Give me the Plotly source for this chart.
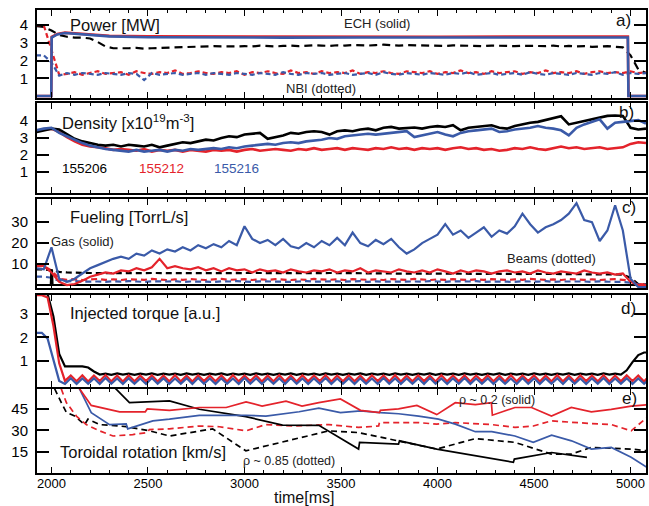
import plotly.graph_objects as go

RED = "#e4232b"
BLUE = "#3a5aa8"
BLACK = "#000000"
FONT = "Liberation Sans, Arial, sans-serif"

# ---------------- time bases ----------------
t40 = list(range(1920, 5081, 40))   # 80 samples
t30 = list(range(1920, 5101, 30))   # 107 samples

# ---------------- a) Power [MW] ----------------
ech_t = [1920, 1999, 2001, 2030, 2070, 2110, 2200, 2300, 2500, 2800, 3200, 3600, 4000, 4400, 4800, 4986, 4989, 5090]
ech_red = [0, 0, 3.35, 3.5, 3.58, 3.55, 3.45, 3.4, 3.37, 3.36, 3.35, 3.36, 3.35, 3.36, 3.35, 3.36, 0, 0]
ech_blue = [0, 0, 3.3, 3.48, 3.56, 3.52, 3.43, 3.37, 3.32, 3.3, 3.3, 3.31, 3.3, 3.3, 3.3, 3.31, 0, 0]

nbi_red = [4.0, 4.0, 2.6, 1.2, 1.25, 1.35, 1.2, 1.3, 1.4, 1.25,
           1.3, 1.35, 1.2, 1.4, 1.3, 1.25, 1.35, 1.3, 1.45, 1.25,
           1.3, 1.4, 1.3, 1.25, 1.35, 1.3, 1.4, 1.2, 1.35, 1.3,
           1.4, 1.3, 1.25, 1.45, 1.3, 1.35, 1.25, 1.4, 1.3, 1.35,
           1.3, 1.45, 1.25, 1.35, 1.3, 1.4, 1.3, 1.25, 1.4, 1.35,
           1.3, 1.4, 1.25, 1.35, 1.3, 1.45, 1.3, 1.35, 1.25, 1.4,
           1.3, 1.35, 1.4, 1.25, 1.35, 1.3, 1.45, 1.3, 1.35, 1.3,
           1.4, 1.25, 1.35, 1.4, 1.3, 1.35, 1.3, 1.4, 1.3, 1.35]
nbi_blue = [2.3, 2.3, 1.9, 1.15, 1.3, 1.2, 1.3, 1.25, 1.2, 1.3,
            1.25, 1.2, 1.3, 1.25, 0.9, 1.3, 1.2, 1.25, 1.3, 1.2,
            1.25, 1.3, 1.2, 1.3, 1.25, 1.2, 1.3, 1.25, 1.2, 1.3,
            1.25, 1.2, 1.35, 1.25, 1.2, 1.3, 1.25, 1.3, 1.2, 1.25,
            1.3, 1.2, 1.25, 1.3, 1.2, 1.35, 1.25, 1.2, 1.3, 1.25,
            1.2, 1.3, 1.25, 1.2, 1.3, 1.25, 1.35, 1.2, 1.25, 1.3,
            1.2, 1.25, 1.3, 1.2, 1.35, 1.25, 1.2, 1.3, 1.25, 1.2,
            1.3, 1.25, 1.2, 1.3, 1.25, 1.35, 1.2, 1.3, 1.25, 1.3]
nbi_black = [3.95, 3.9, 3.7, 3.45, 3.35, 3.3, 3.3, 3.25, 3.05, 2.8,
             2.7, 2.68, 2.7, 2.72, 2.68, 2.7, 2.72, 2.7, 2.75, 2.78,
             2.8, 2.78, 2.8, 2.82, 2.8, 2.78, 2.8, 2.82, 2.8, 2.85,
             2.82, 2.8, 2.83, 2.85, 2.82, 2.85, 2.87, 2.85, 2.83, 2.87,
             2.85, 2.88, 2.86, 2.85, 2.88, 2.9, 2.87, 2.85, 2.88, 2.87,
             2.85, 2.87, 2.85, 2.83, 2.86, 2.85, 2.83, 2.85, 2.82, 2.85,
             2.83, 2.85, 2.82, 2.84, 2.83, 2.8, 2.82, 2.85, 2.8, 2.83,
             2.8, 2.82, 2.78, 2.8, 2.82, 2.78, 2.75, 2.3, 1.5, 1.3]

# ---------------- b) Density ----------------
dens_black = [3.35, 3.45, 3.55, 3.5, 3.25, 2.95, 2.8, 2.7, 2.6, 2.55,
              2.6, 2.5, 2.6, 2.55, 2.5, 2.6, 2.45, 2.55, 2.65, 2.75,
              2.7, 2.8, 2.9, 2.85, 3.0, 3.1, 3.05, 3.2, 3.25, 3.3,
              2.95, 3.05, 3.15, 3.3, 3.25, 3.35, 3.4, 3.35, 3.2, 3.4,
              3.45, 3.4, 3.5, 3.55, 3.45, 3.6, 3.65, 3.55, 3.6, 3.62,
              3.55, 3.65, 3.7, 3.65, 3.75, 3.45, 3.6, 3.65, 3.7, 3.75,
              3.6, 3.55, 3.7, 3.8, 3.9, 3.95, 4.05, 4.15, 4.28, 3.8,
              3.9, 4.0, 4.1, 4.2, 4.3, 4.32, 4.3, 3.6, 3.5, 3.55]
dens_blue = [3.45, 3.55, 3.6, 3.3, 3.1, 2.9, 2.7, 2.55, 2.45, 2.35,
             2.3, 2.25, 2.2, 2.3, 2.2, 2.25, 2.3, 2.2, 2.3, 2.25,
             2.35, 2.3, 2.35, 2.4, 2.35, 2.45, 2.4, 2.5, 2.55, 2.6,
             2.65, 2.6, 2.7, 2.75, 2.7, 2.8, 2.85, 2.9, 3.0, 2.95,
             3.1, 3.15, 3.2, 3.25, 3.2, 3.25, 3.3, 3.35, 3.4, 3.05,
             3.15, 3.25, 3.35, 3.2, 3.1, 3.3, 3.4, 3.45, 3.5, 3.55,
             3.35, 3.4, 3.5, 3.55, 3.6, 3.7, 3.6, 3.55, 3.45, 3.15,
             3.6, 3.8, 3.95, 4.1, 3.55, 3.9, 3.95, 4.0, 4.05, 3.85]
dens_red = [3.4, 3.5, 3.55, 3.35, 3.05, 2.8, 2.6, 2.5, 2.45, 2.4,
            2.3, 2.35, 2.3, 2.25, 2.35, 2.2, 2.3, 2.25, 2.3, 2.2,
            2.3, 2.25, 2.2, 2.3, 2.25, 2.3, 2.2, 2.3, 2.35, 2.25,
            2.3, 2.35, 2.3, 2.25, 2.35, 2.3, 2.4, 2.3, 2.35, 2.4,
            2.3, 2.4, 2.35, 2.3, 2.4, 2.35, 2.45, 2.35, 2.4, 2.3,
            2.4, 2.35, 2.4, 2.3, 2.4, 2.45, 2.35, 2.4, 2.3, 2.35,
            2.25, 2.3, 2.4, 2.35, 2.45, 2.35, 2.3, 2.4, 2.5, 2.4,
            2.45, 2.35, 2.4, 2.45, 2.35, 2.4, 2.45, 2.65, 2.75, 2.7]

# ---------------- c) Fueling [TorrL/s] ----------------
gas_blue = [8, 7.5, 18, 3, 1.5, 3, 5.5, 8, 9.5, 11,
            12.5, 13.5, 12.5, 15, 14, 16.5, 15, 17, 16, 18,
            16.5, 19, 17.5, 19.5, 18, 21, 19, 28, 22, 20,
            21.5, 19, 22, 18.5, 17.5, 20, 18, 21, 19, 22.5,
            19, 25, 20, 18.5, 21.5, 19.5, 22, 18, 15, 17,
            20, 22, 24, 29, 24, 26, 22.5, 25, 27.5, 23,
            26, 24.5, 28, 34, 29, 25, 27.5, 29, 31, 34,
            39, 31, 30, 21, 26, 38, 26, 3, -1, -1]
gas_red = [9.5, 9, 6, 1.5, 0, 0.5, 2, 4, 5, 6,
           5.5, 7, 6.5, 8, 7, 8.5, 12.5, 8, 9, 8,
           7.5, 8.5, 7, 8, 6.5, 8, 7, 7.5, 6, 7.5,
           6.5, 7, 6, 7.5, 6.5, 6, 7, 6.5, 7.5, 6,
           7, 6.5, 8, 6, 7, 6.5, 6, 7.5, 6.5, 6,
           7, 6, 7.5, 6.5, 5.5, 7, 6, 7, 6.5, 5.5,
           6.5, 7, 6, 6.5, 5.5, 7, 6, 5.5, 6.5, 6,
           5.5, 7, 6, 5.5, 6, 5, 5.5, 1.5, 0, 0]
gas_black_t = [1920, 1996, 1999, 2003, 2006, 5090]
gas_black = [0, 0, 7, 7, 0, 0]
beam_black = [7.5, 7.5, 7, 6.3, 6, 5.8, 5.7, 5.75, 5.7, 5.65,
              5.7, 5.75, 5.7, 5.65, 5.7, 5.75, 5.7, 5.7, 5.65, 5.7,
              5.75, 5.7, 5.65, 5.7, 5.75, 5.7, 5.7, 5.65, 5.7, 5.75,
              5.7, 5.65, 5.7, 5.75, 5.7, 5.65, 5.7, 5.7, 5.75, 5.7,
              5.6, 5.65, 5.6, 5.55, 5.6, 5.5, 5.55, 5.5, 5.45, 5.5,
              5.45, 5.5, 5.4, 5.45, 5.4, 5.45, 5.35, 5.4, 5.35, 5.4,
              5.3, 5.35, 5.3, 5.25, 5.3, 5.2, 5.25, 5.2, 5.25, 5.2,
              5.15, 5.2, 5.15, 5.1, 5.15, 5.1, 5.0, 3.5, 0.5, 0.3]
beam_red = [9, 9, 7, 3, 2.5, 2.8, 2.4, 2.6, 2.9, 2.5,
            2.7, 2.4, 2.8, 2.6, 2.5, 2.9, 2.6, 2.4, 2.7, 2.5,
            2.8, 2.6, 2.4, 2.7, 2.9, 2.5, 2.6, 2.8, 2.4, 2.7,
            2.5, 2.8, 2.6, 2.4, 2.7, 2.5, 2.9, 2.6, 2.5, 2.7,
            2.4, 2.8, 2.6, 2.5, 2.7, 2.4, 2.8, 2.6, 2.5, 2.9,
            2.6, 2.4, 2.7, 2.5, 2.8, 2.6, 2.4, 2.7, 2.5, 2.8,
            2.6, 2.4, 2.7, 2.5, 2.9, 2.6, 2.5, 2.7, 2.4, 2.8,
            2.6, 2.5, 2.7, 2.4, 2.6, 2.8, 2.5, 2.0, 0.5, 0.3]
beam_blue = [4, 4, 3.5, 2, 1.7, 1.9, 1.6, 1.8, 1.7, 1.5,
             1.8, 1.6, 1.9, 1.7, 1.5, 1.8, 1.6, 1.7, 1.9, 1.5,
             1.7, 1.8, 1.6, 1.5, 1.8, 1.7, 1.9, 1.6, 1.5, 1.8,
             1.7, 1.6, 1.8, 1.5, 1.7, 1.9, 1.6, 1.7, 1.5, 1.8,
             1.6, 1.7, 1.9, 1.5, 1.8, 1.6, 1.7, 1.5, 1.8, 1.7,
             1.6, 1.9, 1.7, 1.5, 1.8, 1.6, 1.7, 1.9, 1.5, 1.7,
             1.8, 1.6, 1.5, 1.8, 1.7, 1.6, 1.9, 1.5, 1.7, 1.8,
             1.6, 1.7, 1.5, 1.8, 1.6, 1.7, 1.5, 1.2, 0.3, 0.2]

# ---------------- d) Injected torque [a.u.] ----------------
torque_black = [3.85, 3.85, 3.85, 2.9, 1.3, 0.77, 0.77, 0.77, 0.77, 0.72, 0.55, 0.42,
                0.46, 0.41, 0.47, 0.42, 0.46, 0.41, 0.46, 0.42, 0.47, 0.41,
                0.46, 0.42, 0.46, 0.41, 0.47, 0.42, 0.46, 0.41, 0.46, 0.42,
                0.47, 0.41, 0.46, 0.42, 0.46, 0.41, 0.47, 0.42, 0.46, 0.41,
                0.46, 0.42, 0.47, 0.41, 0.46, 0.42, 0.46, 0.41, 0.47, 0.42,
                0.46, 0.41, 0.46, 0.42, 0.47, 0.41, 0.46, 0.42, 0.46, 0.41,
                0.47, 0.42, 0.46, 0.41, 0.46, 0.42, 0.47, 0.41, 0.46, 0.42,
                0.46, 0.41, 0.47, 0.42, 0.46, 0.41, 0.46, 0.42, 0.47, 0.41,
                0.46, 0.42, 0.46, 0.41, 0.47, 0.42, 0.46, 0.41, 0.46, 0.42,
                0.47, 0.41, 0.46, 0.42, 0.46, 0.41, 0.47, 0.42, 0.46, 0.42,
                0.6, 0.95, 1.25, 1.36, 1.36]
torque_red = [3.8, 3.8, 3.7, 2.5, 0.9, 0.15,
              0.38, 0.13, 0.39, 0.12, 0.38, 0.14, 0.4, 0.13, 0.38, 0.12,
              0.39, 0.13, 0.38, 0.14, 0.39, 0.12, 0.38, 0.13, 0.4, 0.13,
              0.38, 0.12, 0.39, 0.14, 0.38, 0.13, 0.39, 0.12, 0.4, 0.13,
              0.38, 0.14, 0.39, 0.12, 0.38, 0.13, 0.4, 0.13, 0.38, 0.12,
              0.39, 0.13, 0.38, 0.14, 0.4, 0.12, 0.38, 0.13, 0.39, 0.13,
              0.38, 0.12, 0.39, 0.14, 0.38, 0.13, 0.4, 0.12, 0.38, 0.13,
              0.39, 0.14, 0.38, 0.12, 0.4, 0.13, 0.38, 0.13, 0.39, 0.12,
              0.38, 0.14, 0.39, 0.13, 0.38, 0.12, 0.4, 0.13, 0.38, 0.14,
              0.39, 0.12, 0.38, 0.13, 0.4, 0.13, 0.38, 0.12, 0.39, 0.14,
              0.38, 0.13, 0.4, 0.12, 0.38, 0.13, 0.39, 0.14, 0.38, 0.12,
              0.39]
torque_blue = [2.2, 2.2, 1.95, 1.1, 0.15, 0.02,
               0.26, 0.02, 0.25, 0.03, 0.26, 0.02, 0.27, 0.03, 0.25, 0.02,
               0.26, 0.03, 0.25, 0.02, 0.27, 0.03, 0.26, 0.02, 0.25, 0.03,
               0.26, 0.02, 0.27, 0.03, 0.25, 0.02, 0.26, 0.03, 0.25, 0.02,
               0.27, 0.03, 0.26, 0.02, 0.25, 0.03, 0.26, 0.02, 0.27, 0.03,
               0.25, 0.02, 0.26, 0.03, 0.27, 0.02, 0.25, 0.03, 0.26, 0.02,
               0.26, 0.03, 0.25, 0.02, 0.27, 0.03, 0.26, 0.02, 0.25, 0.03,
               0.26, 0.02, 0.27, 0.03, 0.25, 0.02, 0.26, 0.03, 0.27, 0.02,
               0.25, 0.03, 0.26, 0.02, 0.26, 0.03, 0.25, 0.02, 0.27, 0.03,
               0.26, 0.02, 0.25, 0.03, 0.26, 0.02, 0.27, 0.03, 0.25, 0.02,
               0.26, 0.03, 0.27, 0.02, 0.25, 0.03, 0.26, 0.02, 0.25, 0.03,
               0.26]

# ---------------- e) Toroidal rotation [km/s] ----------------
rot_red_t = [2110, 2206, 2353, 2486, 2496, 2611, 2766, 2905, 3008, 3091, 3215, 3298, 3385, 3497, 3601,
             3699, 3704, 3798, 3893, 3996, 4092, 4196, 4279, 4284, 4401, 4487, 4590, 4693, 4797, 4900, 5003, 5090]
rot_red = [66, 47.5, 43, 43, 45, 44, 46, 46, 50, 47, 50.5, 47, 49.4, 52, 44,
           42.5, 44, 45, 47.5, 41, 49.4, 48, 49.4, 40.6, 46, 46, 40, 46, 43, 44.7, 47, 48]
rot_blue_t = [2120, 2206, 2301, 2387, 2395, 2525, 2611, 2766, 3008, 3111, 3283, 3385, 3497, 3601, 3704,
              3798, 3902, 4005, 4092, 4196, 4281, 4401, 4496, 4591, 4694, 4797, 4900, 5003, 5085]
rot_blue = [66, 42.4, 34, 34.5, 31, 36.6, 37.8, 40.5, 40.5, 40, 43, 45.5, 42.4, 43.6, 42.4,
            41.6, 40, 37.8, 34.3, 29, 29, 26, 21.5, 26.6, 22.6, 16.8, 18, 11, 4]
rot_black_t = [2298, 2404, 2611, 2766, 3007, 3197, 3385, 3591, 3596, 3798, 3803, 3996, 4393, 4398, 4591, 4774]
rot_black = [64, 49.4, 50.6, 44.8, 39.6, 33.6, 33.5, 16.8, 21.5, 20.3, 22.6, 16.8, 7.5, 9.8, 14.4, 11]
rot_black_d_t = [2001, 2017, 2051, 2077, 2120, 2172, 2189, 2250, 2387, 2508, 2611, 2766, 2835, 3007, 3110,
                 3437, 3591, 3798, 3996, 4196, 4401, 4590, 4693, 4797, 5003, 5085]
rot_black_d = [66, 59, 49.5, 42.6, 40, 34, 37.8, 34, 32.6, 29.6, 26, 29.6, 31, 15.6, 19,
               29.6, 28.4, 22.6, 16.8, 24.2, 21.5, 13.3, 13.3, 18, 16.8, 15.6]
rot_red_d_t = [2040, 2051, 2077, 2129, 2180, 2249, 2319, 2421, 2496, 2507, 2611, 2766, 2870, 3007, 3110,
               3247, 3437, 3591, 3695, 3699, 3902, 3996, 4092, 4281, 4401, 4496, 4590, 4693, 4797, 4900,
               5003, 5085]
rot_red_d = [66, 59, 49.5, 40, 34, 29.6, 26, 27, 28.4, 30.5, 31, 33, 32.5, 29.6, 34,
             33, 34, 32, 33, 35.4, 35.4, 34.3, 35.4, 34, 32, 33, 36.6, 35.4, 34.7, 34,
             29.6, 39]

# ---------------- tick labels ----------------
yticks_a = [1, 2, 3, 4]
yticks_b = [1, 2, 3, 4]
yticks_c = [10, 20, 30]
yticks_d = [1, 2, 3]
yticks_e = [15, 30, 45]
xtick_vals = [2000, 2500, 3000, 3500, 4000, 4500, 5000]

for name, arr, ref in [("nbi_red", nbi_red, t40), ("nbi_blue", nbi_blue, t40), ("nbi_black", nbi_black, t40),
                       ("dens_black", dens_black, t40), ("dens_blue", dens_blue, t40), ("dens_red", dens_red, t40),
                       ("gas_blue", gas_blue, t40), ("gas_red", gas_red, t40), ("beam_black", beam_black, t40),
                       ("beam_red", beam_red, t40), ("beam_blue", beam_blue, t40),
                       ("torque_black", torque_black, t30), ("torque_red", torque_red, t30),
                       ("torque_blue", torque_blue, t30)]:
    if len(arr) != len(ref):
        raise ValueError(f"{name}: {len(arr)} vs {len(ref)}")

fig = go.Figure()


def add(x, y, color, width, dash, k):
    fig.add_trace(go.Scatter(
        x=x, y=y, mode="lines",
        line=dict(color=color, width=width, dash=dash),
        xaxis="x" if k == 1 else f"x{k}", yaxis="y" if k == 1 else f"y{k}",
        showlegend=False, hoverinfo="skip"))


# a
add(t40, nbi_black, BLACK, 2.2, "8px,5px", 1)
add(t40, nbi_red, RED, 2.2, "5px,3px", 1)
add(t40, nbi_blue, BLUE, 2.2, "5px,3px", 1)
add(ech_t, ech_red, RED, 2.6, "solid", 1)
add(ech_t, ech_blue, BLUE, 2.6, "solid", 1)
# b
add(t40, dens_red, RED, 2.6, "solid", 2)
add(t40, dens_black, BLACK, 2.6, "solid", 2)
add(t40, dens_blue, BLUE, 2.6, "solid", 2)
# c
add(t40, beam_black, BLACK, 2.2, "6px,4px", 3)
add(t40, beam_red, RED, 2.2, "6px,4px", 3)
add(t40, beam_blue, BLUE, 2.2, "6px,4px", 3)
add(gas_black_t, gas_black, BLACK, 2.0, "solid", 3)
add(t40, gas_red, RED, 2.2, "solid", 3)
add(t40, gas_blue, BLUE, 2.2, "solid", 3)
# d
add(t30, torque_black, BLACK, 2.2, "solid", 4)
add(t30, torque_red, RED, 2.2, "solid", 4)
add(t30, torque_blue, BLUE, 2.2, "solid", 4)
# e
add(rot_black_d_t, rot_black_d, BLACK, 1.7, "6px,4px", 5)
add(rot_red_d_t, rot_red_d, RED, 1.7, "6px,4px", 5)
add(rot_black_t, rot_black, BLACK, 1.7, "solid", 5)
add(rot_blue_t, rot_blue, BLUE, 1.7, "solid", 5)
add(rot_red_t, rot_red, RED, 1.7, "solid", 5)

# ---------------- layout ----------------
H_TOP, H_BOT = 10, 473
PH = H_BOT - H_TOP
L, R = 37, 648
PW = R - L


def yp(px):
    return (H_BOT - px) / PH


def xp(px):
    return (px - L) / PW


panels = [  # (top px, bottom px, range, ticks)
    (10, 98, [-0.11, 4.86], yticks_a),
    (103, 193, [-0.24, 5.06], yticks_b),
    (199, 288, [-1.4, 41], yticks_c),
    (295, 387, [-0.11, 3.81], yticks_d),
    (389, 473, [0, 59], yticks_e),
]

layout = dict(
    width=649, height=506,
    margin=dict(l=L, r=649 - R, t=H_TOP, b=506 - H_BOT),
    paper_bgcolor="white", plot_bgcolor="white",
    font=dict(family=FONT, color="black"),
)

for k, (top, bot, rng, tv) in enumerate(panels, start=1):
    sx = "" if k == 1 else str(k)
    layout["xaxis" + sx] = dict(
        domain=[0, 1], anchor="y" + sx, range=[1925, 5080],
        matches=None if k == 1 else "x",
        showgrid=False, zeroline=False, showline=True, linecolor="black", linewidth=2,
        mirror="ticks", ticks="inside", ticklen=6, tickwidth=1.2, tickcolor="black",
        tickvals=xtick_vals, ticktext=[str(v) for v in xtick_vals],
        minor=dict(ticks="inside", ticklen=3, dtick=100, tick0=2000, tickcolor="black", tickwidth=1),
        showticklabels=(k == 5), tickfont=dict(size=13, family=FONT, color="black"),
        ticklabelstandoff=-3, ticklabeloverflow="allow",
    )
    layout["yaxis" + sx] = dict(
        domain=[yp(bot), yp(top)], anchor="x" + sx, range=rng,
        showgrid=False, zeroline=False, showline=True, linecolor="black", linewidth=2,
        mirror="ticks", ticks="inside", ticklen=12, tickwidth=1.5, tickcolor="black",
        tickvals=tv, ticktext=[str(v) for v in tv],
        tickfont=dict(size=15, family=FONT, color="black"),
        ticklabelstandoff=4,
    )

fig.update_layout(**layout)

ann = [
    # text, x px, y px, size, color, xanchor
    ("Power [MW]", 68, 25, 16.5, "#111", "left"),
    ("ECH (solid)", 343, 24, 13, "#222", "left"),
    ("a)", 635, 20, 17, "#111", "right"),
    ("NBI (dotted)", 285, 88, 13, "#222", "left"),
    ("Density [x10<sup>19</sup>m<sup>-3</sup>]", 60, 122, 16.5, "#111", "left"),
    ("155206", 60, 168, 13.5, BLACK, "left"),
    ("155212", 137, 168, 13.5, RED, "left"),
    ("155216", 213, 168, 13.5, BLUE, "left"),
    ("b)", 638, 113, 17, "#111", "right"),
    ("Fueling [TorrL/s]", 68, 217, 16.5, "#111", "left"),
    ("Gas (solid)", 49, 241, 13, "#222", "left"),
    ("Beams (dotted)", 507, 258, 13, "#222", "left"),
    ("c)", 640, 208, 17, "#111", "right"),
    ("Injected torque [a.u.]", 68, 313, 16.5, "#111", "left"),
    ("d)", 640, 308, 17, "#111", "right"),
    ("Toroidal rotation [km/s]", 58, 452, 16.5, "#111", "left"),
    ("ρ ~ 0.85 (dotted)", 242, 461, 12.5, "#222", "left"),
    ("ρ ~ 0.2 (solid)", 458, 400, 12.5, "#222", "left"),
    ("e)", 641, 398, 17, "#111", "right"),
    ("time[ms]", 305, 497, 16, "#111", "center"),
]
for text, x, y, size, color, xa in ann:
    fig.add_annotation(text=text, x=xp(x), y=yp(y), xref="paper", yref="paper",
                       xanchor=xa, yanchor="middle", showarrow=False,
                       font=dict(size=size, color=color, family=FONT))

fig.write_html("out.html", config={"displayModeBar": False},
               post_script="document.body.style.margin='0px';document.body.style.overflow='hidden';")
